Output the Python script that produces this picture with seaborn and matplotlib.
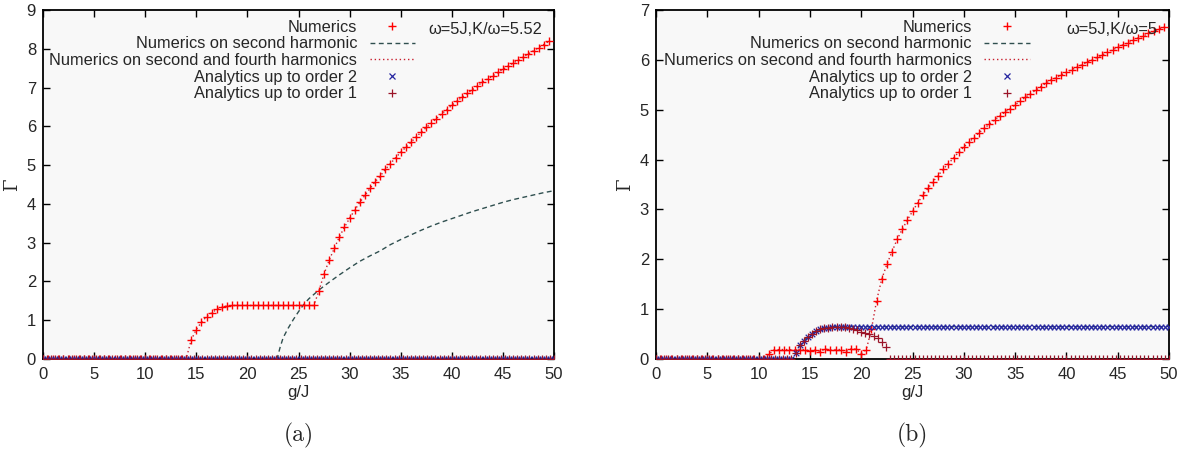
import numpy as np
import pandas as pd
import matplotlib
matplotlib.use("Agg")
import matplotlib.pyplot as plt
from matplotlib.lines import Line2D
import seaborn as sns

# ---------------- data ----------------
# numerics grid (step 0.5)
g_num = np.round(np.arange(0, 50.0, 0.5), 2)
# analytics grid (step 0.4)
g_an = np.round(np.arange(0, 50.01, 0.4), 2)

# panel (a)  omega=5J, K/omega=5.52
num_a = ([0.0] * 29 +
         [0.49, 0.76, 0.95, 1.09, 1.19, 1.28, 1.33, 1.37] +
         [1.38] * 17 +
         [1.76, 2.19, 2.55, 2.85, 3.15, 3.40, 3.63, 3.84, 4.04, 4.22,
          4.40, 4.57, 4.72, 4.89, 5.04, 5.19, 5.33, 5.46, 5.59, 5.72,
          5.85, 5.97, 6.08, 6.20, 6.32, 6.43, 6.54, 6.65, 6.75, 6.85,
          6.94, 7.04, 7.14, 7.22, 7.30, 7.39, 7.47, 7.55, 7.63, 7.71,
          7.79, 7.87, 7.95, 8.03, 8.11, 8.19])
harm2_g_a = [0.0, 22.9, 23.2, 23.5, 24.0, 24.5, 25.0, 25.5, 26.0, 27.0, 28.0,
             29.0, 30.0, 31.0, 32.0, 33.0, 34.0, 35.0, 36.0, 37.0, 38.0, 39.0,
             40.0, 41.0, 42.0, 43.0, 44.0, 45.0, 46.0, 47.0, 48.0, 49.0, 50.0]
harm2_a = [0.0, 0.0, 0.30, 0.55, 0.80, 1.02, 1.22, 1.40, 1.55, 1.78, 1.98,
           2.17, 2.35, 2.52, 2.66, 2.79, 2.95, 3.08, 3.20, 3.32, 3.43, 3.53,
           3.62, 3.71, 3.80, 3.88, 3.96, 4.04, 4.11, 4.17, 4.23, 4.29, 4.34]
an2_a = [0.0] * 126
an1_a = [0.0] * 126

# panel (b)  omega=5J, K/omega=5
num_b = ([0.0] * 22 +
         [0.10, 0.18, 0.19, 0.19, 0.19, 0.18, 0.19, 0.19, 0.16, 0.19,
          0.15, 0.20, 0.18, 0.19, 0.19, 0.15, 0.20, 0.20, 0.11, 0.19,
          0.60, 1.17, 1.60, 1.90, 2.15, 2.40, 2.60, 2.79, 2.96, 3.13,
          3.28, 3.42, 3.56, 3.68, 3.81, 3.92, 4.03, 4.15, 4.25, 4.35,
          4.44, 4.54, 4.63, 4.71, 4.80, 4.87, 4.95, 5.02, 5.10, 5.17,
          5.25, 5.32, 5.39, 5.46, 5.53, 5.60, 5.64, 5.70, 5.75, 5.80,
          5.85, 5.90, 5.95, 6.00, 6.05, 6.10, 6.15, 6.20, 6.25, 6.30,
          6.34, 6.39, 6.44, 6.48, 6.53, 6.57, 6.62, 6.66])
harm2_g_b = [0.0, 13.3, 13.6, 14.0, 14.5, 15.0, 15.5, 16.0, 16.5, 17.0, 17.5, 50.0]
harm2_b = [0.0, 0.0, 0.12, 0.28, 0.39, 0.48, 0.55, 0.60, 0.62, 0.64, 0.65, 0.65]
an2_b = ([0.0] * 34 +
         [0.12, 0.28, 0.37, 0.45, 0.51, 0.56, 0.60, 0.62, 0.63, 0.64] +
         [0.65] * 82)
an1_b = ([0.0] * 34 +
         [0.12, 0.28, 0.37, 0.45, 0.51, 0.56, 0.60, 0.62, 0.63, 0.64,
          0.65, 0.65, 0.64, 0.63, 0.61, 0.58, 0.55, 0.53, 0.50, 0.47,
          0.42, 0.35, 0.24] +
         [0.0] * 69)

x_ticks = [0, 5, 10, 15, 20, 25, 30, 35, 40, 45, 50]
labels = ["Numerics", "Numerics on second harmonic",
          "Numerics on second and fourth harmonics",
          "Analytics up to order 2", "Analytics up to order 1"]

# ---------------- style ----------------
sns.set_style("ticks")
plt.rcParams["font.family"] = ["Liberation Sans", "DejaVu Sans"]
plt.rcParams["font.size"] = 12

C_NUM = "#ff0000"
C_AN1 = "#9a1428"
C_AN2 = "#2626a0"
C_H2 = "#2f4f4f"
C_H24 = "#c81e2e"

fig = plt.figure(figsize=(11.92, 4.51), dpi=100)
W, H = 1192, 451
axA = fig.add_axes([43 / W, 1 - 359 / H, 511 / W, 349 / H])
axB = fig.add_axes([656 / W, 1 - 359 / H, 513 / W, 349 / H])


def draw(ax, num, h2g, h2, an2, an1, ymax, title, cap):
    ax.set_facecolor("#f8f8f8")
    d_num = pd.DataFrame({"g": g_num, "G": num})
    d_h2 = pd.DataFrame({"g": h2g, "G": h2})
    d_an = pd.DataFrame({"g": g_an, "a2": an2, "a1": an1})
    sns.lineplot(data=d_h2, x="g", y="G", ax=ax, color=C_H2, lw=1.0,
                 linestyle=(0, (3.5, 2.5)), errorbar=None, zorder=2)
    sns.lineplot(data=d_num, x="g", y="G", ax=ax, color=C_H24, lw=1.0,
                 linestyle=(0, (1, 2)), errorbar=None, zorder=2)
    sns.scatterplot(data=d_num, x="g", y="G", ax=ax, marker="+", color=C_NUM,
                    s=36, linewidth=1.0, zorder=3)
    sns.scatterplot(data=d_an, x="g", y="a2", ax=ax, marker="x", color=C_AN2,
                    s=16, linewidth=0.9, zorder=4)
    sns.scatterplot(data=d_an, x="g", y="a1", ax=ax, marker="+", color=C_AN1,
                    s=30, linewidth=0.9, zorder=5)
    ax.set_xlim(0, 50)
    ax.set_ylim(0, ymax)
    ax.set_xticks(x_ticks)
    ax.set_yticks(list(range(0, ymax + 1)))
    ax.tick_params(direction="in", top=True, right=True, length=5, width=1,
                   labelsize=12, pad=6, color="black")
    ax.tick_params(axis="y", pad=5)
    for s in ax.spines.values():
        s.set_linewidth(1.3)
        s.set_color("black")
    ax.set_xlabel("g/J", fontsize=12, labelpad=2)
    ax.set_ylabel("Γ", fontsize=13, family="DejaVu Serif", labelpad=4)
    handles = [
        Line2D([], [], color=C_NUM, marker="+", ls="none", ms=6, mew=1.0),
        Line2D([], [], color=C_H2, lw=1.0, ls=(0, (3.5, 2.5))),
        Line2D([], [], color=C_H24, lw=1.0, ls=(0, (1, 2))),
        Line2D([], [], color=C_AN2, marker="x", ls="none", ms=4, mew=0.9),
        Line2D([], [], color=C_AN1, marker="+", ls="none", ms=5.5, mew=0.9),
    ]
    ax.legend(handles, labels, loc="upper right", bbox_to_anchor=(0.748, 1.0),
              frameon=False, markerfirst=False, fontsize=11.8, handlelength=2.8,
              handletextpad=0.75, labelspacing=0.1, borderaxespad=0,
              borderpad=0.6)
    ax.text(0.977, 0.945, title, transform=ax.transAxes, ha="right",
            va="center", fontsize=11.8)
    ax.text(0.5, -0.218, cap, transform=ax.transAxes, ha="center", va="center",
            fontsize=17, family="cmr10")


draw(axA, num_a, harm2_g_a, harm2_a, an2_a, an1_a, 9, "ω=5J,K/ω=5.52", "(a)")
draw(axB, num_b, harm2_g_b, harm2_b, an2_b, an1_b, 7, "ω=5J,K/ω=5", "(b)")

fig.savefig("out.png", dpi=100)
